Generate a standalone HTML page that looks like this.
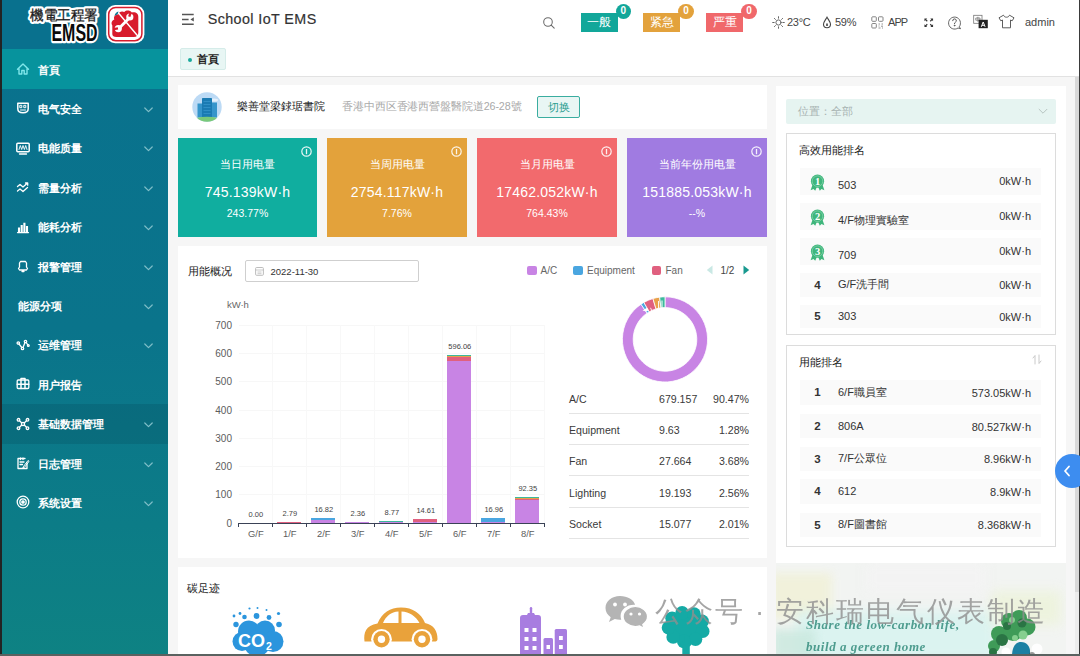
<!DOCTYPE html>
<html lang="zh">
<head>
<meta charset="utf-8">
<title>School IoT EMS</title>
<style>
*{box-sizing:border-box;margin:0;padding:0}
html,body{width:1080px;height:656px;overflow:hidden;background:#f4f4f4;font-family:"Liberation Sans",sans-serif;color:#333;font-size:12px}
.abs{position:absolute}
#root{position:relative;width:1080px;height:656px;overflow:hidden;background:#f6f6f6}
/* sidebar */
#edge{left:0;top:0;width:2px;height:656px;background:#232323}
#side{left:2px;top:0;width:166px;height:656px;background:linear-gradient(180deg,#09718e 0%,#0a748b 50%,#0c7c87 80%,#0e8283 100%)}
#logo{left:0;top:0;width:166px;height:49px;background:#09718e}
.mi{position:absolute;left:0;width:166px;height:40px;color:#fff;font-size:12px}
.mi .t{position:absolute;left:35.5px;top:12.5px;line-height:16px;font-size:11px;letter-spacing:0;font-weight:700}
.mi svg.ic{position:absolute;left:14px;top:13px;width:14px;height:14px;stroke:#fff;fill:none;stroke-width:1.3}
.mi svg.ch{position:absolute;left:141.5px;top:18.5px;width:9px;height:6px;stroke:#7fbec8;fill:none;stroke-width:1.2}
.mi.act{background:#07939d}
.mi.hl{background:rgba(0,30,50,0.13)}
/* header */
#hdr{left:168px;top:0;width:911px;height:77px;background:#fff;border-bottom:1px solid #e2e2e2}
.hx{position:absolute;top:15px;font-size:11px;color:#444;line-height:15px;letter-spacing:-0.3px}
.badge{position:absolute;top:12.8px;height:19.4px;width:37px;color:#fff;font-size:11.5px;line-height:19px;text-align:center;font-weight:500}
.dot{position:absolute;top:3.7px;width:15.6px;height:15.6px;border-radius:50%;color:#fff;font-size:10px;line-height:14.5px;text-align:center;font-weight:bold}
/* panels */
.panel{position:absolute;background:#fff}
.card{position:absolute;top:138px;height:99px;color:#fff;text-align:center}
.card .a{position:absolute;left:0;right:0;top:17.5px;font-size:11px;line-height:16px;font-weight:500}
.card .b{position:absolute;left:0;right:0;top:45px;font-size:14px;line-height:18px;letter-spacing:0.2px}
.card .c{position:absolute;left:0;right:0;top:68px;font-size:10.5px;line-height:14px}
.card svg{position:absolute;right:5px;top:8px;width:11px;height:11px}
.yl{position:absolute;left:200px;width:32px;text-align:right;font-size:10px;color:#5c5c5c;line-height:12px}
.xl{position:absolute;top:528px;width:34px;text-align:center;font-size:9.4px;color:#5c5c5c;line-height:12px}
.vl{position:absolute;width:34px;text-align:center;font-size:7.5px;color:#444;line-height:9px}
.gh{position:absolute;left:239px;width:306px;height:1px;background:#f7f7f7}
.gv{position:absolute;top:325px;width:1px;height:198px;background:#f8f8f8}
.bar{position:absolute}
.tr{position:absolute;left:569px;width:180px;height:30px;border-bottom:1px solid #e4e4e4;font-size:10.6px;color:#3a3a3a}
.tr span{position:absolute;top:8px;line-height:14px}
.tr .n{left:0}.tr .v{left:90px}.tr .p{right:0}
.rk{position:absolute;left:800px;width:241px;background:#fafafa;font-size:11px;color:#333}
.rk .i{position:absolute;left:0;width:35px;text-align:center;font-weight:bold;font-size:11.5px}
.rk .n{position:absolute;left:38px}
.rk .v{position:absolute;right:10px}
.rk svg{position:absolute;left:9px;top:5px;width:17px;height:18px}
</style>
</head>
<body>
<div id="root">
<div class="abs" id="edge"></div>
<div class="abs" id="side">
  <div class="abs" id="logo">
    <svg class="abs" style="left:0;top:0" width="166" height="49" viewBox="0 0 166 49">
      <g font-family="Liberation Sans, sans-serif" font-weight="bold" text-anchor="end">
        <text x="96" y="19.800" font-size="14" stroke="#fff" stroke-width="4.200" stroke-linejoin="round" fill="#fff" textLength="68" lengthAdjust="spacingAndGlyphs">機電工程署</text>
        <text x="96" y="19.800" font-size="14" fill="#1a1a1a" textLength="68" lengthAdjust="spacingAndGlyphs" font-weight="normal" stroke="#1a1a1a" stroke-width="0.300">機電工程署</text>
        <text x="95.500" y="40.800" font-size="23.500" stroke="#fff" stroke-width="4.400" stroke-linejoin="round" fill="#fff" textLength="46" lengthAdjust="spacingAndGlyphs">EMSD</text>
        <text x="95.500" y="40.800" font-size="23.500" fill="#0a0a0a" textLength="46" lengthAdjust="spacingAndGlyphs">EMSD</text>
      </g>
      <rect x="104.200" y="5" width="38.200" height="38.200" rx="9" fill="#fff"/>
      <rect x="106.700" y="7.500" width="33.200" height="33.200" rx="7" fill="none" stroke="#d81b2c" stroke-width="1.500"/>
      <path d="M110.300 34V25.500c-1.500-2.500-.5-5 2-6-1-3 1-5.500 4-5 .5-2.500 3.500-4 6-2.500 2-2 5.500-2 7.500.500 3.500-1 6.800 1 6.500 4.500V32.500c0 2.800-1.500 4.600-4.500 4.600H114.500c-2.800 0-4.200-1.300-4.200-3.100z" fill="#d81b2c"/>
      <g fill="none" stroke="#fff" stroke-linecap="round">
        <path d="M114.800 11l21.400 25.500" stroke-width="1.400"/>
        <path d="M126.800 18.500l-9 9" stroke-width="2.800"/>
      </g>
      <circle cx="127.800" cy="17" r="3.600" fill="#fff"/><path d="M126.600 12.500h2.400v4.200h-2.400z" fill="#d81b2c" transform="rotate(20 127.800 15)"/>
      <circle cx="116.300" cy="28.600" r="3.600" fill="#fff"/><path d="M111.500 27.500h4.500v2.300h-4.500z" fill="#d81b2c" transform="rotate(-10 114 28.600)"/>
      <path d="M112.500 16c.5-2.500 2-4 4-4.500l-1 3c-1 .3-2 .8-3 1.500z" fill="#0a7a94"/>
    </svg>
  </div>
<div class="mi act" style="top:49.0px"><svg class="ic" viewBox="0 0 14 14" stroke-linecap="round" stroke-linejoin="round"><path d="M1.5 7.200L7 2l5.500 5.200M3 6.500v5.500h2.800V8.500h2.400V12H11V6.500" stroke="#7fe6ea" stroke-width="1.400"/></svg><span class="t">首頁</span></div>
<div class="mi " style="top:88.4px"><svg class="ic" viewBox="0 0 14 14" stroke-linecap="round" stroke-linejoin="round"><path d="M1.800 2.200h10.400v5.500c0 2.300-2 4-5.200 4s-5.200-1.700-5.200-4z" stroke-width="1.500"/><path d="M4.200 4.300h1.600v2.400H4.200zM8.200 4.300h1.600v2.400H8.200z" stroke-width="1"/><path d="M4.500 9h5" stroke-width="1"/></svg><span class="t">电气安全</span><svg class="ch" viewBox="0 0 9 6" stroke-linecap="round" stroke-linejoin="round"><path d="M0.800 1l3.700 3.700L8.200 1"/></svg></div>
<div class="mi " style="top:127.8px"><svg class="ic" viewBox="0 0 14 14" stroke-linecap="round" stroke-linejoin="round"><rect x="0.800" y="2.300" width="12.400" height="8.400" rx="1" stroke-width="1.500"/><path d="M3 8.500l1.300-4 1.400 4 1.300-4 1.400 4 1.300-4 1.300 4" stroke-width="0.900"/><path d="M3.500 13h7" stroke-width="1.300"/></svg><span class="t">电能质量</span><svg class="ch" viewBox="0 0 9 6" stroke-linecap="round" stroke-linejoin="round"><path d="M0.800 1l3.700 3.700L8.200 1"/></svg></div>
<div class="mi " style="top:167.2px"><svg class="ic" viewBox="0 0 14 14" stroke-linecap="round" stroke-linejoin="round"><path d="M1.500 6.500l2.500-2 3 2.500 4.500-4M9.500 3h2.200v2.200M1.500 11l2.500-2 3 2.500 4.500-4"/></svg><span class="t">需量分析</span><svg class="ch" viewBox="0 0 9 6" stroke-linecap="round" stroke-linejoin="round"><path d="M0.800 1l3.700 3.700L8.200 1"/></svg></div>
<div class="mi " style="top:206.6px"><svg class="ic" viewBox="0 0 14 14" stroke-linecap="round" stroke-linejoin="round"><path d="M1.500 12.600h11" stroke-width="1.200"/><path d="M3 12V7.500M5.700 12V5M8.400 12V2.800M11 12V6" stroke-width="2.100" stroke-linecap="butt"/></svg><span class="t">能耗分析</span><svg class="ch" viewBox="0 0 9 6" stroke-linecap="round" stroke-linejoin="round"><path d="M0.800 1l3.700 3.700L8.200 1"/></svg></div>
<div class="mi " style="top:246.0px"><svg class="ic" viewBox="0 0 14 14" stroke-linecap="round" stroke-linejoin="round"><path d="M4.500 2.500h5l1 1.500v4l1 1.500-1 1.500h-7L2.500 9.500l1-1.500V4zM6 12.500h2"/></svg><span class="t">报警管理</span><svg class="ch" viewBox="0 0 9 6" stroke-linecap="round" stroke-linejoin="round"><path d="M0.800 1l3.700 3.700L8.200 1"/></svg></div>
<div class="mi " style="top:285.4px"><span class="t" style="left:16px">能源分项</span><svg class="ch" viewBox="0 0 9 6" stroke-linecap="round" stroke-linejoin="round"><path d="M0.800 1l3.700 3.700L8.200 1"/></svg></div>
<div class="mi " style="top:324.8px"><svg class="ic" viewBox="0 0 14 14" stroke-linecap="round" stroke-linejoin="round"><circle cx="2.300" cy="5" r="1.200"/><circle cx="6.500" cy="10.500" r="1.200"/><circle cx="9.500" cy="3.500" r="1.200"/><circle cx="12.300" cy="7.500" r="0.900"/><path d="M3 6l2.800 3.500M7 9.500l2-5M10.200 4.500l1.600 2.300"/></svg><span class="t">运维管理</span><svg class="ch" viewBox="0 0 9 6" stroke-linecap="round" stroke-linejoin="round"><path d="M0.800 1l3.700 3.700L8.200 1"/></svg></div>
<div class="mi " style="top:364.2px"><svg class="ic" viewBox="0 0 14 14" stroke-linecap="round" stroke-linejoin="round"><rect x="1.200" y="3" width="11.600" height="8.500" rx="1"/><path d="M5 3V1.500h4V3M5 3V11.500M9 3V11.500M1.200 7.200h11.600" stroke-width="1.500"/></svg><span class="t">用户报告</span></div>
<div class="mi hl" style="top:403.6px"><svg class="ic" viewBox="0 0 14 14" stroke-linecap="round" stroke-linejoin="round"><circle cx="2.500" cy="2.800" r="1.300"/><circle cx="11.500" cy="2.800" r="1.300"/><circle cx="2.500" cy="11.200" r="1.300"/><circle cx="11.500" cy="11.200" r="1.300"/><circle cx="7" cy="7" r="1.600"/><path d="M3.500 3.800l2.300 2.200M10.500 3.800L8.200 6M3.500 10.200l2.300-2.200M10.500 10.200L8.200 8"/></svg><span class="t">基础数据管理</span><svg class="ch" viewBox="0 0 9 6" stroke-linecap="round" stroke-linejoin="round"><path d="M0.800 1l3.700 3.700L8.200 1"/></svg></div>
<div class="mi " style="top:443.0px"><svg class="ic" viewBox="0 0 14 14" stroke-linecap="round" stroke-linejoin="round"><path d="M11 7v5.500H2V2.500h7M4.500 2v1.500M7 2v1.500M4 6h4M4 8.500h2.500"/><path d="M7.500 10.500l4.500-6 1 .800-4.500 6-1.300.500z" stroke-width="1"/></svg><span class="t">日志管理</span><svg class="ch" viewBox="0 0 9 6" stroke-linecap="round" stroke-linejoin="round"><path d="M0.800 1l3.700 3.700L8.200 1"/></svg></div>
<div class="mi " style="top:482.4px"><svg class="ic" viewBox="0 0 14 14" stroke-linecap="round" stroke-linejoin="round"><circle cx="7" cy="7" r="5.800"/><circle cx="7" cy="7" r="3.200"/><circle cx="7" cy="7" r="1.200" fill="#fff"/></svg><span class="t">系统设置</span><svg class="ch" viewBox="0 0 9 6" stroke-linecap="round" stroke-linejoin="round"><path d="M0.800 1l3.700 3.700L8.200 1"/></svg></div>
</div>

<div class="abs" id="hdr">
  <!-- coordinates inside hdr are page x minus 168 -->
  <svg class="abs" style="left:13px;top:13px" width="14" height="13" viewBox="0 0 14 13" fill="none" stroke="#555" stroke-width="1.500"><path d="M1 1.500h11.700M1 6.400h6.600M1 11.300h11.700"/><path d="M12.800 4.300v4.200L9.400 6.400z" fill="#555" stroke="none"/></svg>
  <div class="abs" style="left:39.700px;top:10px;font-size:14.300px;line-height:18px;color:#333;letter-spacing:0.420px;-webkit-text-stroke:0.200px #333;white-space:nowrap">School IoT EMS</div>
  <svg class="abs" style="left:374px;top:16px" width="14" height="14" viewBox="0 0 14 14" fill="none" stroke="#6a6a6a" stroke-width="1.050" stroke-linecap="round"><circle cx="6" cy="6" r="4.300"/><path d="M9.200 9.200l3 3"/></svg>
  <div class="badge" style="left:412.500px;background:#12a79a">一般</div><div class="dot" style="left:447.600px;background:#12a79a">0</div>
  <div class="badge" style="left:475px;background:#e3a23c">紧急</div><div class="dot" style="left:510.200px;background:#e3a23c">0</div>
  <div class="badge" style="left:538px;background:#f0686b">严重</div><div class="dot" style="left:573.200px;background:#f0686b">0</div>
  <!-- weather -->
  <svg class="abs" style="left:604px;top:16px" width="13" height="13" viewBox="0 0 13 13" fill="none" stroke="#555" stroke-width="0.900" stroke-linecap="round"><circle cx="6.500" cy="6.500" r="2.600"/><path d="M6.500 0.700v1.500M6.500 10.800v1.500M0.700 6.500h1.500M10.800 6.500h1.500M2.400 2.400l1 1M9.600 9.600l1 1M2.400 10.600l1-1M9.600 3.400l1-1"/></svg>
  <div class="hx" style="left:619px">23°C</div>
  <svg class="abs" style="left:654px;top:16px" width="10" height="13" viewBox="0 0 10 13" fill="none" stroke="#444" stroke-width="1.100"><path d="M5 1.200C3.500 4 1.500 6 1.500 8.300a3.500 3.500 0 0 0 7 0C8.500 6 6.500 4 5 1.200z"/><path d="M5 7.500v2.500" stroke-width="1.600"/></svg>
  <div class="hx" style="left:667px">59%</div>
  <svg class="abs" style="left:703px;top:16px" width="13" height="13" viewBox="0 0 13 13" fill="none" stroke="#777" stroke-width="0.900"><rect x="0.800" y="0.800" width="4.500" height="4.500" rx="0.800"/><rect x="7.500" y="0.800" width="4.500" height="4.500" rx="0.800"/><rect x="0.800" y="7.500" width="4.500" height="4.500" rx="0.800"/><path d="M7.500 8h1.500M10.500 8h1.500M7.500 10h1M10 10.200h2M7.500 12h2M11 12h1" stroke-width="0.800"/></svg>
  <div class="hx" style="left:720px;letter-spacing:-0.900px">APP</div>
  <svg class="abs" style="left:756px;top:17.500px" width="9.500" height="9.500" viewBox="0 0 11 11" fill="#333"><path d="M0.500 0.500h3.200L2.600 1.600l1.700 1.700-1 1L1.600 2.600 0.500 3.700zM10.500 0.500v3.200L9.400 2.600 7.700 4.300l-1-1 1.700-1.700L7.300 0.500zM0.500 10.500V7.300l1.100 1.100 1.700-1.700 1 1-1.700 1.700 1.100 1.100zM10.500 10.500H7.300l1.100-1.100-1.700-1.700 1-1 1.700 1.700 1.100-1.100z"/></svg>
  <svg class="abs" style="left:779px;top:15px" width="15" height="15" viewBox="0 0 15 15" fill="none" stroke="#555" stroke-width="0.900" stroke-linecap="round"><path d="M12.500 11.500A6 6 0 1 0 11 13l2.200.600z"/><path d="M5.700 5.700a1.800 1.800 0 1 1 2.600 1.600c-.6.300-.8.700-.8 1.400" stroke-width="1"/><circle cx="7.500" cy="10.600" r="0.400" fill="#555"/></svg>
  <svg class="abs" style="left:805px;top:13px" width="16" height="16" viewBox="0 0 16 16"><rect x="0.700" y="2.300" width="8.300" height="8" fill="#fff" stroke="#777" stroke-width="0.800"/><path d="M2.800 5h4.200v2.200H2.800zM4.900 3.800v5" fill="none" stroke="#666" stroke-width="0.700"/><rect x="5.600" y="6.800" width="9.200" height="8.400" fill="#222"/><path d="M8.300 13.800l1.900-4.800 1.900 4.800M9 12.300h2.400" fill="none" stroke="#fff" stroke-width="1"/></svg>
  <svg class="abs" style="left:830px;top:14px" width="17" height="15" viewBox="0 0 17 15" fill="none" stroke="#555" stroke-width="0.950" stroke-linejoin="round"><path d="M5.500 1.200L1 3.800l1.800 3 1.700-.8v7.800h8V6l1.700.8 1.800-3-4.500-2.600c-.5 1.300-1.600 2-3 2s-2.500-.7-3-2z"/></svg>
  <div class="hx" style="left:857px;letter-spacing:0">admin</div>
  <!-- tab -->
  <div class="abs" style="left:12px;top:48px;width:46px;height:22px;background:#e8f6f4;border:1px solid #d5ece9;border-radius:2px"></div>
  <div class="abs" style="left:19.500px;top:57.500px;width:4.400px;height:4.400px;border-radius:50%;background:#19a99c"></div>
  <div class="abs" style="left:29px;top:50.500px;font-size:11px;line-height:16px;color:#222;font-weight:700">首頁</div>
</div>
<div class="abs" style="left:1079px;top:0;width:1px;height:656px;background:#3a3a3a"></div>

<div class="panel" style="left:178px;top:85px;width:589px;height:43.500px"></div>
<svg class="abs" style="left:192px;top:92px" width="30" height="30" viewBox="0 0 30 30">
<defs><clipPath id="cc"><circle cx="15" cy="15" r="14.700"/></clipPath></defs>
<circle cx="15" cy="15" r="14.700" fill="#bcdaf5"/>
<g clip-path="url(#cc)">
<ellipse cx="22" cy="8" rx="4" ry="1.500" fill="#e4f0fb"/>
<rect x="5.500" y="11.500" width="5.500" height="14" fill="#3595cb"/><rect x="19" y="10.500" width="6" height="15" fill="#3595cb"/>
<rect x="10" y="6" width="10" height="20" rx="0.800" fill="#1a7bb3"/>
<path d="M11.500 9.500h7M11.500 12.500h7M11.500 15.500h7M11.500 18.500h7M11.500 21.500h7" stroke="#2f8fc6" stroke-width="1.200"/>
<ellipse cx="15" cy="29" rx="15" ry="4.200" fill="#79c97a"/>
</g></svg>
<div class="abs" style="left:237px;top:98px;font-size:11px;line-height:16px;color:#222;white-space:nowrap;font-weight:500">樂善堂梁銶琚書院</div>
<div class="abs" style="left:342px;top:98px;font-size:10.700px;line-height:16px;color:#a9a9a9;white-space:nowrap;letter-spacing:-0.100px">香港中西区香港西營盤醫院道26-28號</div>
<div class="abs" style="left:537px;top:95.500px;width:43px;height:22px;border:1px solid #3aada0;border-radius:2px;background:#e9f6f4;color:#2a9d90;font-size:11px;line-height:20px;text-align:center">切换</div>
<div class="card" style="left:178px;width:139px;background:#10ae9f"><svg viewBox="0 0 11 11" fill="none" stroke="#fff" stroke-width="1.200" opacity="0.900"><circle cx="5.500" cy="5.500" r="4.700"/><path d="M5.500 3v5.200" stroke-width="1.300"/></svg><div class="a">当日用电量</div><div class="b">745.139kW·h</div><div class="c">243.77%</div></div>
<div class="card" style="left:327px;width:140px;background:#e3a23b"><svg viewBox="0 0 11 11" fill="none" stroke="#fff" stroke-width="1.200" opacity="0.900"><circle cx="5.500" cy="5.500" r="4.700"/><path d="M5.500 3v5.200" stroke-width="1.300"/></svg><div class="a">当周用电量</div><div class="b">2754.117kW·h</div><div class="c">7.76%</div></div>
<div class="card" style="left:477px;width:140px;background:#f26a6d"><svg viewBox="0 0 11 11" fill="none" stroke="#fff" stroke-width="1.200" opacity="0.900"><circle cx="5.500" cy="5.500" r="4.700"/><path d="M5.500 3v5.200" stroke-width="1.300"/></svg><div class="a">当月用电量</div><div class="b">17462.052kW·h</div><div class="c">764.43%</div></div>
<div class="card" style="left:627px;width:140px;background:#a07be1"><svg viewBox="0 0 11 11" fill="none" stroke="#fff" stroke-width="1.200" opacity="0.900"><circle cx="5.500" cy="5.500" r="4.700"/><path d="M5.500 3v5.200" stroke-width="1.300"/></svg><div class="a">当前年份用电量</div><div class="b">151885.053kW·h</div><div class="c">--%</div></div>
<div class="panel" style="left:178px;top:246px;width:589px;height:312px"></div>
<div class="abs" style="left:188px;top:263px;font-size:11px;line-height:16px;color:#222;white-space:nowrap">用能概况</div>
<div class="abs" style="left:245px;top:260px;width:174px;height:22px;border:1px solid #cfcfcf;border-radius:2px;background:#fff"></div>
<svg class="abs" style="left:255px;top:266px" width="9" height="10" viewBox="0 0 9 10" fill="none" stroke="#b5b5b5" stroke-width="0.900"><rect x="0.600" y="1.500" width="7.800" height="7.800" rx="1"/><path d="M0.600 4h7.800M2.500 6h4M2.500 7.700h4" stroke-width="0.700"/></svg>
<div class="abs" style="left:270.500px;top:265px;font-size:9.500px;line-height:13px;color:#333;white-space:nowrap">2022-11-30</div>
<div class="abs" style="left:227px;top:298.500px;font-size:9.500px;line-height:12px;color:#666;letter-spacing:-0.100px">kW·h</div>
<div class="yl" style="top:517.5px">0</div>
<div class="yl" style="top:489.2px">100</div>
<div class="gh" style="top:494.2px"></div>
<div class="yl" style="top:461.0px">200</div>
<div class="gh" style="top:466.0px"></div>
<div class="yl" style="top:432.8px">300</div>
<div class="gh" style="top:437.8px"></div>
<div class="yl" style="top:404.5px">400</div>
<div class="gh" style="top:409.5px"></div>
<div class="yl" style="top:376.2px">500</div>
<div class="gh" style="top:381.2px"></div>
<div class="yl" style="top:348.0px">600</div>
<div class="gh" style="top:353.0px"></div>
<div class="yl" style="top:319.8px">700</div>
<div class="gh" style="top:324.8px"></div>
<div class="gv" style="left:272.3px"></div>
<div class="gv" style="left:306.3px"></div>
<div class="gv" style="left:340.3px"></div>
<div class="gv" style="left:374.3px"></div>
<div class="gv" style="left:408.3px"></div>
<div class="gv" style="left:442.3px"></div>
<div class="gv" style="left:476.3px"></div>
<div class="gv" style="left:510.3px"></div>
<div class="gv" style="left:544.3px"></div>
<div class="abs" style="left:238px;top:523.0px;width:307px;height:1px;background:#3a4256"></div>
<div class="abs" style="left:238.3px;top:523.0px;width:1px;height:4px;background:#3a4256"></div>
<div class="abs" style="left:272.3px;top:523.0px;width:1px;height:4px;background:#3a4256"></div>
<div class="abs" style="left:306.3px;top:523.0px;width:1px;height:4px;background:#3a4256"></div>
<div class="abs" style="left:340.3px;top:523.0px;width:1px;height:4px;background:#3a4256"></div>
<div class="abs" style="left:374.3px;top:523.0px;width:1px;height:4px;background:#3a4256"></div>
<div class="abs" style="left:408.3px;top:523.0px;width:1px;height:4px;background:#3a4256"></div>
<div class="abs" style="left:442.3px;top:523.0px;width:1px;height:4px;background:#3a4256"></div>
<div class="abs" style="left:476.3px;top:523.0px;width:1px;height:4px;background:#3a4256"></div>
<div class="abs" style="left:510.3px;top:523.0px;width:1px;height:4px;background:#3a4256"></div>
<div class="abs" style="left:544.3px;top:523.0px;width:1px;height:4px;background:#3a4256"></div>
<div class="xl" style="left:238.8px">G/F</div>
<div class="vl" style="left:238.8px;top:510.0px">0.00</div>
<div class="xl" style="left:272.8px">1/F</div>
<div class="vl" style="left:272.8px;top:509.2px">2.79</div>
<div class="bar" style="left:276.8px;width:24.500px;top:522.21px;height:0.79px;background:#e0607f"></div>
<div class="xl" style="left:306.8px">2/F</div>
<div class="vl" style="left:306.8px;top:505.2px">16.82</div>
<div class="bar" style="left:310.8px;width:24.500px;top:520.46px;height:2.54px;background:#c884e4"></div>
<div class="bar" style="left:310.8px;width:24.500px;top:518.25px;height:2.21px;background:#4aa6e0"></div>
<div class="xl" style="left:340.8px">3/F</div>
<div class="vl" style="left:340.8px;top:509.3px">2.36</div>
<div class="bar" style="left:344.8px;width:24.500px;top:522.33px;height:0.67px;background:#c884e4"></div>
<div class="xl" style="left:374.8px">4/F</div>
<div class="vl" style="left:374.8px;top:507.5px">8.77</div>
<div class="bar" style="left:378.8px;width:24.500px;top:522.43px;height:0.56px;background:#c884e4"></div>
<div class="bar" style="left:378.8px;width:24.500px;top:520.52px;height:1.91px;background:#3cb99c"></div>
<div class="xl" style="left:408.8px">5/F</div>
<div class="vl" style="left:408.8px;top:505.9px">14.61</div>
<div class="bar" style="left:412.8px;width:24.500px;top:522.15px;height:0.85px;background:#c884e4"></div>
<div class="bar" style="left:412.8px;width:24.500px;top:518.87px;height:3.28px;background:#e0607f"></div>
<div class="xl" style="left:442.8px">6/F</div>
<div class="vl" style="left:442.8px;top:341.6px">596.06</div>
<div class="bar" style="left:446.8px;width:24.500px;top:361.13px;height:161.87px;background:#c884e4"></div>
<div class="bar" style="left:446.8px;width:24.500px;top:357.17px;height:3.95px;background:#e0607f"></div>
<div class="bar" style="left:446.8px;width:24.500px;top:356.33px;height:0.85px;background:#e8a04a"></div>
<div class="bar" style="left:446.8px;width:24.500px;top:354.63px;height:1.69px;background:#3cb99c"></div>
<div class="xl" style="left:476.8px">7/F</div>
<div class="vl" style="left:476.8px;top:505.2px">16.96</div>
<div class="bar" style="left:480.8px;width:24.500px;top:521.59px;height:1.41px;background:#c884e4"></div>
<div class="bar" style="left:480.8px;width:24.500px;top:518.21px;height:3.38px;background:#4aa6e0"></div>
<div class="xl" style="left:510.8px">8/F</div>
<div class="vl" style="left:510.8px;top:483.9px">92.35</div>
<div class="bar" style="left:514.8px;width:24.500px;top:500.26px;height:22.74px;background:#c884e4"></div>
<div class="bar" style="left:514.8px;width:24.500px;top:499.41px;height:0.85px;background:#e0607f"></div>
<div class="bar" style="left:514.8px;width:24.500px;top:497.72px;height:1.69px;background:#e8a04a"></div>
<div class="bar" style="left:514.8px;width:24.500px;top:496.91px;height:0.81px;background:#3cb99c"></div>
<div class="abs" style="left:527px;top:265.500px;width:9.500px;height:9.500px;border-radius:2px;background:#c884e4"></div>
<div class="abs" style="left:540.5px;top:263.500px;font-size:10px;line-height:13px;color:#666;white-space:nowrap">A/C</div>
<div class="abs" style="left:573px;top:265.500px;width:9.500px;height:9.500px;border-radius:2px;background:#4aa6e0"></div>
<div class="abs" style="left:587px;top:263.500px;font-size:10px;line-height:13px;color:#666;white-space:nowrap">Equipment</div>
<div class="abs" style="left:651.5px;top:265.500px;width:9.500px;height:9.500px;border-radius:2px;background:#e0607f"></div>
<div class="abs" style="left:665.5px;top:263.500px;font-size:10px;line-height:13px;color:#666;white-space:nowrap">Fan</div>
<svg class="abs" style="left:706px;top:265px" width="7" height="10" viewBox="0 0 7 10"><path d="M6.500 0.500v9L0.800 5z" fill="#c9e8e4"/></svg>
<div class="abs" style="left:720.5px;top:263.500px;font-size:10px;line-height:13px;color:#444;white-space:nowrap">1/2</div>
<svg class="abs" style="left:743px;top:265px" width="7" height="10" viewBox="0 0 7 10"><path d="M0.500 0.500v9L6.200 5z" fill="#18998f"/></svg>
<svg class="abs" style="left:620px;top:295px" width="90" height="90" viewBox="0 0 90 90"><path d="M45.00 1.80A42.6 42.6 0 1 1 20.99 9.21L27.08 18.13A31.8 31.8 0 1 0 45.00 12.60Z" fill="#c884e4" stroke="#fff" stroke-width="0.800"/><path d="M20.99 9.21A42.6 42.6 0 0 1 23.89 7.40L29.24 16.78A31.8 31.8 0 0 0 27.08 18.13Z" fill="#4aa6e0" stroke="#fff" stroke-width="0.800"/><path d="M23.89 7.40A42.6 42.6 0 0 1 32.94 3.54L35.99 13.90A31.8 31.8 0 0 0 29.24 16.78Z" fill="#e0607f" stroke="#fff" stroke-width="0.800"/><path d="M32.94 3.54A42.6 42.6 0 0 1 39.63 2.14L40.99 12.85A31.8 31.8 0 0 0 35.99 13.90Z" fill="#e8a04a" stroke="#fff" stroke-width="0.800"/><path d="M39.63 2.14A42.6 42.6 0 0 1 45.00 1.80L45.00 12.60A31.8 31.8 0 0 0 40.99 12.85Z" fill="#3cb99c" stroke="#fff" stroke-width="0.800"/><path d="M22.500 15.500l4.500-2.800 1.600 2.500-2 1.200zM25.500 20.500l3.500-2 .8 1.600-2.600 2.200z" fill="#fff"/><path d="M30.500 12.800l2 4.500M31.500 18l-2.500 2" stroke="#fff" stroke-width="0.900" fill="none"/><path d="M38.600 6v9M42 5.500v9.500" stroke="#fff" stroke-width="1" fill="none"/></svg>
<div class="tr" style="top:384.0px"><span class="n">A/C</span><span class="v">679.157</span><span class="p">90.47%</span></div>
<div class="tr" style="top:415.2px"><span class="n">Equipment</span><span class="v">9.63</span><span class="p">1.28%</span></div>
<div class="tr" style="top:446.4px"><span class="n">Fan</span><span class="v">27.664</span><span class="p">3.68%</span></div>
<div class="tr" style="top:477.6px"><span class="n">Lighting</span><span class="v">19.193</span><span class="p">2.56%</span></div>
<div class="tr" style="top:508.8px"><span class="n">Socket</span><span class="v">15.077</span><span class="p">2.01%</span></div>
<div class="panel" style="left:178px;top:567px;width:589px;height:89px"></div>
<div class="abs" style="left:187px;top:580px;font-size:11px;line-height:16px;color:#222;white-space:nowrap">碳足迹</div>
<div class="panel" style="left:776px;top:86px;width:290px;height:570px"></div>
<div class="abs" style="left:1075px;top:77px;width:4px;height:579px;background:#ececec"></div>
<div class="abs" style="left:1075px;top:77px;width:4px;height:515px;background:#d9d9d9"></div>
<div class="abs" style="left:786px;top:99px;width:270px;height:24.500px;background:#e6f4f1;border-radius:2px"></div>
<div class="abs" style="left:798px;top:103.500px;font-size:10.500px;line-height:15px;color:#a8b3b1;white-space:nowrap">位置：全部</div>
<svg class="abs" style="left:1038px;top:108px" width="10" height="7" viewBox="0 0 10 7" fill="none" stroke="#b7c4c1" stroke-width="1"><path d="M0.800 1l4.200 4.200L9.200 1"/></svg>
<div class="abs" style="left:786px;top:133px;width:270px;height:202px;border:1px solid #dcdcdc;background:#fff"></div>
<div class="abs" style="left:799px;top:142px;font-size:11px;line-height:16px;color:#222;white-space:nowrap">高效用能排名</div>
<div class="rk" style="top:168px;height:27px"><svg viewBox="0 0 17 18"><path d="M3.600 11.500L1.600 17.200l2.900-1.300 1.700 1.800 2-4.500zM13.400 11.500l2 5.700-2.900-1.300-1.700 1.800-2-4.500z" fill="#3fb67c"/><circle cx="8.500" cy="8.200" r="6.600" fill="#3fb67c"/><circle cx="8.500" cy="8.200" r="5.300" fill="none" stroke="#a9e2c4" stroke-width="0.500"/><text x="8.500" y="11.800" font-family="Liberation Serif, serif" font-weight="bold" font-size="10.500" fill="#fff" text-anchor="middle">1</text></svg><span class="n" style="top:10.0px;line-height:14px">503</span><span class="v" style="top:6.0px;line-height:14px">0kW·h</span></div>
<div class="rk" style="top:203px;height:27px"><svg viewBox="0 0 17 18"><path d="M3.600 11.500L1.600 17.200l2.900-1.300 1.700 1.800 2-4.500zM13.400 11.500l2 5.700-2.900-1.300-1.700 1.800-2-4.500z" fill="#3fb67c"/><circle cx="8.500" cy="8.200" r="6.600" fill="#3fb67c"/><circle cx="8.500" cy="8.200" r="5.300" fill="none" stroke="#a9e2c4" stroke-width="0.500"/><text x="8.500" y="11.800" font-family="Liberation Serif, serif" font-weight="bold" font-size="10.500" fill="#fff" text-anchor="middle">2</text></svg><span class="n" style="top:10.0px;line-height:14px">4/F物理實驗室</span><span class="v" style="top:6.0px;line-height:14px">0kW·h</span></div>
<div class="rk" style="top:237.5px;height:27px"><svg viewBox="0 0 17 18"><path d="M3.600 11.500L1.600 17.200l2.900-1.300 1.700 1.800 2-4.500zM13.400 11.500l2 5.700-2.900-1.300-1.700 1.800-2-4.500z" fill="#3fb67c"/><circle cx="8.500" cy="8.200" r="6.600" fill="#3fb67c"/><circle cx="8.500" cy="8.200" r="5.300" fill="none" stroke="#a9e2c4" stroke-width="0.500"/><text x="8.500" y="11.800" font-family="Liberation Serif, serif" font-weight="bold" font-size="10.500" fill="#fff" text-anchor="middle">3</text></svg><span class="n" style="top:10.0px;line-height:14px">709</span><span class="v" style="top:6.0px;line-height:14px">0kW·h</span></div>
<div class="rk" style="top:272.5px;height:24px"><span class="i" style="top:5.0px;line-height:14px">4</span><span class="n" style="top:4.5px;line-height:14px">G/F洗手間</span><span class="v" style="top:5.5px;line-height:14px">0kW·h</span></div>
<div class="rk" style="top:304.5px;height:23px"><span class="i" style="top:4.5px;line-height:14px">5</span><span class="n" style="top:4.0px;line-height:14px">303</span><span class="v" style="top:5.0px;line-height:14px">0kW·h</span></div>
<div class="abs" style="left:786px;top:345px;width:270px;height:202px;border:1px solid #dcdcdc;background:#fff"></div>
<div class="abs" style="left:799px;top:354px;font-size:11px;line-height:16px;color:#222;white-space:nowrap">用能排名</div>
<svg class="abs" style="left:1032px;top:354px" width="10" height="11" viewBox="0 0 10 11" fill="none" stroke="#c4c4c4" stroke-width="0.900" stroke-linecap="round"><path d="M3 10V1.500L1 4M7 1v8.500L9 7"/></svg>
<div class="rk" style="top:380px;height:24.5px"><span class="i" style="top:5.2px;line-height:14px">1</span><span class="n" style="top:4.8px;line-height:14px">6/F職員室</span><span class="v" style="top:5.8px;line-height:14px">573.05kW·h</span></div>
<div class="rk" style="top:414px;height:24px"><span class="i" style="top:5.0px;line-height:14px">2</span><span class="n" style="top:4.5px;line-height:14px">806A</span><span class="v" style="top:5.5px;line-height:14px">80.527kW·h</span></div>
<div class="rk" style="top:446.5px;height:24px"><span class="i" style="top:5.0px;line-height:14px">3</span><span class="n" style="top:4.5px;line-height:14px">7/F公眾位</span><span class="v" style="top:5.5px;line-height:14px">8.96kW·h</span></div>
<div class="rk" style="top:479px;height:24.5px"><span class="i" style="top:5.2px;line-height:14px">4</span><span class="n" style="top:4.8px;line-height:14px">612</span><span class="v" style="top:5.8px;line-height:14px">8.9kW·h</span></div>
<div class="rk" style="top:513px;height:23.5px"><span class="i" style="top:4.8px;line-height:14px">5</span><span class="n" style="top:4.2px;line-height:14px">8/F圖書館</span><span class="v" style="top:5.2px;line-height:14px">8.368kW·h</span></div>
<!-- carbon icons -->
<svg class="abs" style="left:229px;top:603px" width="60" height="53" viewBox="0 0 60 52">
  <g fill="#2b95dd">
    <circle cx="11" cy="10" r="1.400"/><circle cx="20.500" cy="5" r="1.100"/><circle cx="28.500" cy="4.400" r="1"/><circle cx="37.500" cy="6.500" r="1"/><circle cx="49.500" cy="10" r="1.600"/>
    <circle cx="7" cy="21" r="2.700"/><circle cx="15.500" cy="13.500" r="2.300"/><circle cx="27.500" cy="12.500" r="2.900"/><circle cx="40" cy="14" r="2.400"/><circle cx="50" cy="21" r="2.800"/><circle cx="5" cy="12.500" r="1.400"/>
    <circle cx="20" cy="28" r="11"/><circle cx="36" cy="27" r="10"/><circle cx="13" cy="38" r="9.500"/><circle cx="44" cy="38" r="10.500"/><circle cx="28" cy="40" r="13"/>
  </g>
  <text x="9" y="43" font-family="Liberation Sans, sans-serif" font-weight="bold" font-size="18.500" fill="#fff" textLength="27" lengthAdjust="spacingAndGlyphs">CO</text>
  <text x="37" y="46.500" font-family="Liberation Sans, sans-serif" font-weight="bold" font-size="10.500" fill="#fff">2</text>
</svg>
<svg class="abs" style="left:362px;top:605px" width="78" height="45" viewBox="0 0 78 45">
  <path d="M2.500 36.500c-1-9 1-16 13-18C20 8 28 2.500 39 2.500c12 0 20 6 24 15.500 9 2 12.500 8 12.500 16 0 1.500-1 2.500-2 2.500H4z" fill="#e9a23b"/>
  <path d="M21 18c3-7 8-11 15.500-11.500V18zM39.500 6.500c8 .5 14 4.500 18 11.500h-18z" fill="#fff"/>
  <circle cx="19.500" cy="34.300" r="10.400" fill="#fff"/><circle cx="19.500" cy="34.300" r="8.200" fill="#e9a23b"/><circle cx="19.500" cy="34.300" r="3.700" fill="#fff"/>
  <circle cx="60" cy="34.300" r="10.400" fill="#fff"/><circle cx="60" cy="34.300" r="8.200" fill="#e9a23b"/><circle cx="60" cy="34.300" r="3.700" fill="#fff"/>
</svg>
<svg class="abs" style="left:518px;top:604px" width="52" height="52" viewBox="0 0 52 52">
  <g fill="#a87de0">
    <rect x="11.800" y="3" width="2.400" height="8" rx="1.200"/>
    <path d="M2 52V14c0-2 1-3 3-3h4l1-2h6l1 2h3c2 0 3 1 3 3v38z"/>
    <rect x="25.500" y="34" width="9.500" height="18" rx="1.500"/>
    <rect x="36.700" y="25" width="12.300" height="27" rx="1.500"/>
  </g>
  <g fill="#fff">
    <rect x="6.500" y="24" width="4" height="4"/><rect x="14.500" y="24" width="4" height="4"/>
    <rect x="6.500" y="33" width="4" height="4"/><rect x="14.500" y="33" width="4" height="4"/>
    <rect x="6.500" y="42" width="4" height="4"/><rect x="14.500" y="42" width="4" height="4"/>
    <rect x="28.500" y="41" width="3.500" height="4"/>
    <rect x="41" y="32" width="3.800" height="4"/><rect x="41" y="41" width="3.800" height="4"/>
  </g>
</svg>
<svg class="abs" style="left:660px;top:606px" width="52" height="50" viewBox="0 0 52 50"><g fill="#14aaa5"><ellipse cx="26" cy="21" rx="19" ry="16.500"/><circle cx="42.7" cy="25.3" r="6.800"/><circle cx="35.5" cy="33.2" r="6.800"/><circle cx="23.8" cy="35.4" r="6.800"/><circle cx="13.2" cy="30.9" r="6.800"/><circle cx="8.5" cy="21.7" r="6.800"/><circle cx="12.1" cy="12.2" r="6.800"/><circle cx="22.1" cy="6.9" r="6.800"/><circle cx="34.0" cy="8.1" r="6.800"/><circle cx="42.1" cy="15.4" r="6.800"/><path d="M22.300 50V40l-4-5h3l3 3.500V30h4v8l3-3h3l-4.500 5.500V50z"/></g></svg>
<!-- right picture -->
<div class="abs" style="left:776px;top:563px;width:290px;height:93px;background:#f2f4f2;overflow:hidden">
  <div class="abs" style="left:-6px;top:10px;width:62px;height:46px;background:#f1f1d8;filter:blur(5px);opacity:.85"></div>
  <div class="abs" style="left:20px;top:48px;width:200px;height:50px;background:#d9f3f0;filter:blur(6px);opacity:.9"></div>
  <div class="abs" style="left:-4px;top:66px;width:44px;height:30px;background:#c9e8de;filter:blur(5px);opacity:.8"></div>
  <div class="abs" style="left:215px;top:28px;width:70px;height:34px;background:#edf3dc;filter:blur(6px);opacity:.9"></div>
  <div class="abs" style="left:90px;top:0px;width:120px;height:30px;background:#f3f3f3;filter:blur(6px)"></div>
</div>
<div class="abs" style="left:806px;top:613.500px;font-family:'Liberation Serif',serif;font-style:italic;font-weight:bold;font-size:13px;line-height:22.500px;color:#3b9182;white-space:nowrap;letter-spacing:0.550px;opacity:.88">Share the low-carbon life,<br>build a gereen home</div>
<svg class="abs" style="left:985px;top:606px" width="62" height="50" viewBox="0 0 62 50">
  <g fill="#3f9b58"><circle cx="24" cy="15" r="8"/><circle cx="34" cy="12" r="8"/><circle cx="42" cy="21" r="8.500"/><circle cx="14" cy="28" r="8"/><circle cx="28" cy="25" r="10"/><circle cx="9" cy="40" r="6"/></g>
  <g fill="#2a7444"><circle cx="17" cy="34" r="6"/><circle cx="37" cy="17" r="4.500"/><circle cx="22" cy="20" r="4"/><circle cx="8" cy="46" r="4"/></g>
  <g fill="#86cf8f"><circle cx="27" cy="14" r="3"/><circle cx="38" cy="29" r="4.500"/><circle cx="30" cy="32" r="3"/></g>
  <path d="M27 50c0-8 3-14 9-14s9 5 9 9v5z" fill="#1b80a3"/>
  <circle cx="21" cy="46" r="4.500" fill="#fff"/><circle cx="52" cy="43" r="5.500" fill="#fff" opacity=".9"/><circle cx="47" cy="49" r="3" fill="#3a3a3a" opacity=".5"/>
</svg>
<!-- watermark -->
<svg class="abs" style="left:604px;top:594px" width="46" height="38" viewBox="0 0 46 38">
  <g fill="#b4b4b4">
    <path d="M16 2C7.700 2 1.500 7.300 1.500 14c0 3.800 2 7 5.200 9.200L5 28l5.800-3c1.600.5 3.400.8 5.200.8h1.300c-.5-1.300-.7-2.500-.7-3.800 0-6.300 6-11.200 13.300-11.200h1.200C29.800 5.600 23.500 2 16 2z"/>
    <path d="M43.500 22.500c0-5.500-5.500-10-12.200-10s-12.200 4.500-12.200 10 5.500 10 12.200 10c1.500 0 2.900-.2 4.200-.6l4.500 2.400-1.200-3.900c2.900-1.900 4.700-4.700 4.700-7.900z" stroke="#fff" stroke-width="1.200"/>
  </g>
  <g fill="#fff"><circle cx="11" cy="10.500" r="1.900"/><circle cx="21" cy="10.500" r="1.900"/><circle cx="27" cy="20" r="1.600"/><circle cx="35.500" cy="20" r="1.600"/></g>
</svg>
<div class="abs" style="left:655px;top:594px;font-size:27.500px;line-height:36px;color:#8f8f8f;opacity:.8;white-space:nowrap;letter-spacing:2.100px;font-weight:500">公众号 · 安科瑞电气仪表制造</div>
<!-- floating button -->
<div class="abs" style="left:1054.500px;top:453.500px;width:34px;height:34px;border-radius:50%;background:#3d8df0"></div>
<svg class="abs" style="left:1063px;top:464.500px" width="8" height="12" viewBox="0 0 8 12" fill="none" stroke="#fff" stroke-width="1.800" stroke-linecap="round" stroke-linejoin="round"><path d="M6 1.500L2 6l4 4.500"/></svg>
<!-- bottom line -->
<div class="abs" style="left:0;top:654px;width:1080px;height:2px;background:#5a6260"></div>

</div>
</body>
</html>
